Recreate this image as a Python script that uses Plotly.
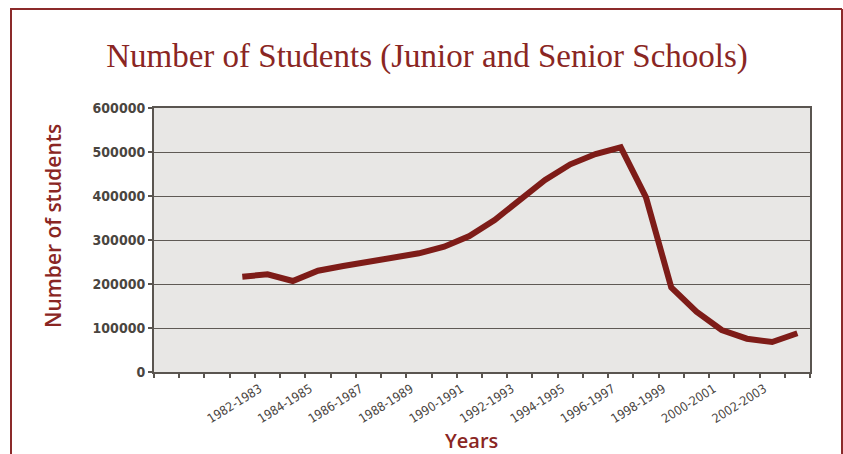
import plotly.graph_objects as go

school_years = [
    "1978-1979", "1979-1980", "1980-1981", "1981-1982", "1982-1983", "1983-1984",
    "1984-1985", "1985-1986", "1986-1987", "1987-1988", "1988-1989", "1989-1990",
    "1990-1991", "1991-1992", "1992-1993", "1993-1994", "1994-1995", "1995-1996",
    "1996-1997", "1997-1998", "1998-1999", "1999-2000", "2000-2001", "2001-2002",
    "2002-2003", "2003-2004",
]
students = [
    None, None, None, 216600, 222000, 206800, 230200, 241000, 251600, 260600,
    269700, 284800, 309000, 345500, 391000, 436400, 472000, 495500, 510600,
    397000, 192500, 137000, 95500, 75700, 68200, 88000,
]
tick_labels = [
    "1982-1983", "1984-1985", "1986-1987", "1988-1989", "1990-1991", "1992-1993",
    "1994-1995", "1996-1997", "1998-1999", "2000-2001", "2002-2003",
]
y_ticks = [0, 100000, 200000, 300000, 400000, 500000, 600000]

W, H = 843, 454
L, R, T, B = 154, 33, 108, 82
pw, ph = W - L - R, H - T - B


def px(x):
    return (x - L) / pw


def py(y):
    return (H - B - y) / ph


positions = list(range(len(school_years)))
tick_pos = [school_years.index(t) for t in tick_labels]

RED = "#8a2623"
LINE = "#7e1c18"
GREY_TXT = "#4a453f"
AXIS = "#5a5550"
COND = "DejaVu Sans Condensed, Liberation Sans Narrow, Roboto"

fig = go.Figure()
fig.add_trace(go.Scatter(
    x=positions, y=students, mode="lines",
    line=dict(color=LINE, width=6), connectgaps=False, showlegend=False,
    hoverinfo="skip",
))

fig.update_layout(
    width=W, height=H,
    margin=dict(l=L, r=R, t=T, b=B, pad=0),
    paper_bgcolor="white",
    plot_bgcolor="#e8e7e5",
    title=dict(
        text="Number of Students (Junior and Senior Schools)",
        x=427 / W, y=1 - 55 / H, xanchor="center", yanchor="middle",
        font=dict(family="Liberation Serif, Times New Roman, serif", size=33, color=RED),
    ),
    xaxis=dict(
        range=[-0.5, len(school_years) - 0.5],
        tickmode="array", tickvals=tick_pos, ticktext=tick_labels,
        tickangle=-32, ticks="", showgrid=False, zeroline=False,
        ticklabelshift=-8, ticklabelstandoff=3,
        showline=True, linecolor=AXIS, linewidth=2, mirror=True,
        tickfont=dict(family=COND, size=12.5, color=GREY_TXT),
        minor=dict(ticks="outside", tick0=-0.5, dtick=1, ticklen=4, tickcolor=AXIS, tickwidth=1.5, showgrid=False),
    ),
    yaxis=dict(
        range=[0, 600000], tickmode="array", tickvals=y_ticks,
        ticktext=[str(v) for v in y_ticks],
        ticks="outside", ticklen=4, tickcolor=AXIS, tickwidth=1.5,
        showgrid=True, gridcolor="#5f5a55", gridwidth=1.3, zeroline=False,
        showline=True, linecolor=AXIS, linewidth=2, mirror=True,
        tickfont=dict(family=COND, size=14, color=GREY_TXT, weight=600),
    ),
    annotations=[
        dict(text="Number of students", x=px(53), y=py(226), xref="paper", yref="paper",
             textangle=-90, showarrow=False, xanchor="center", yanchor="middle",
             font=dict(family="Open Sans, Noto Sans, sans-serif", size=21, color=RED, weight=600)),
        dict(text="Years", x=px(471), y=py(440), xref="paper", yref="paper",
             showarrow=False, xanchor="center", yanchor="middle",
             font=dict(family="Open Sans, Noto Sans, sans-serif", size=20, color=RED, weight=600)),
    ],
    shapes=[
        dict(type="line", xref="paper", yref="paper", x0=px(11), x1=px(11), y0=py(9), y1=py(470),
             line=dict(color="#8b2a2a", width=2)),
        dict(type="line", xref="paper", yref="paper", x0=px(10), x1=px(842), y0=py(9), y1=py(9),
             line=dict(color="#8b2a2a", width=2)),
        dict(type="line", xref="paper", yref="paper", x0=px(842), x1=px(842), y0=py(9), y1=py(470),
             line=dict(color="#8b2a2a", width=2)),
    ],
)

fig.write_html(
    "out.html",
    config={"displayModeBar": False},
    post_script="document.body.style.margin='0';document.body.style.overflow='hidden';",
)
